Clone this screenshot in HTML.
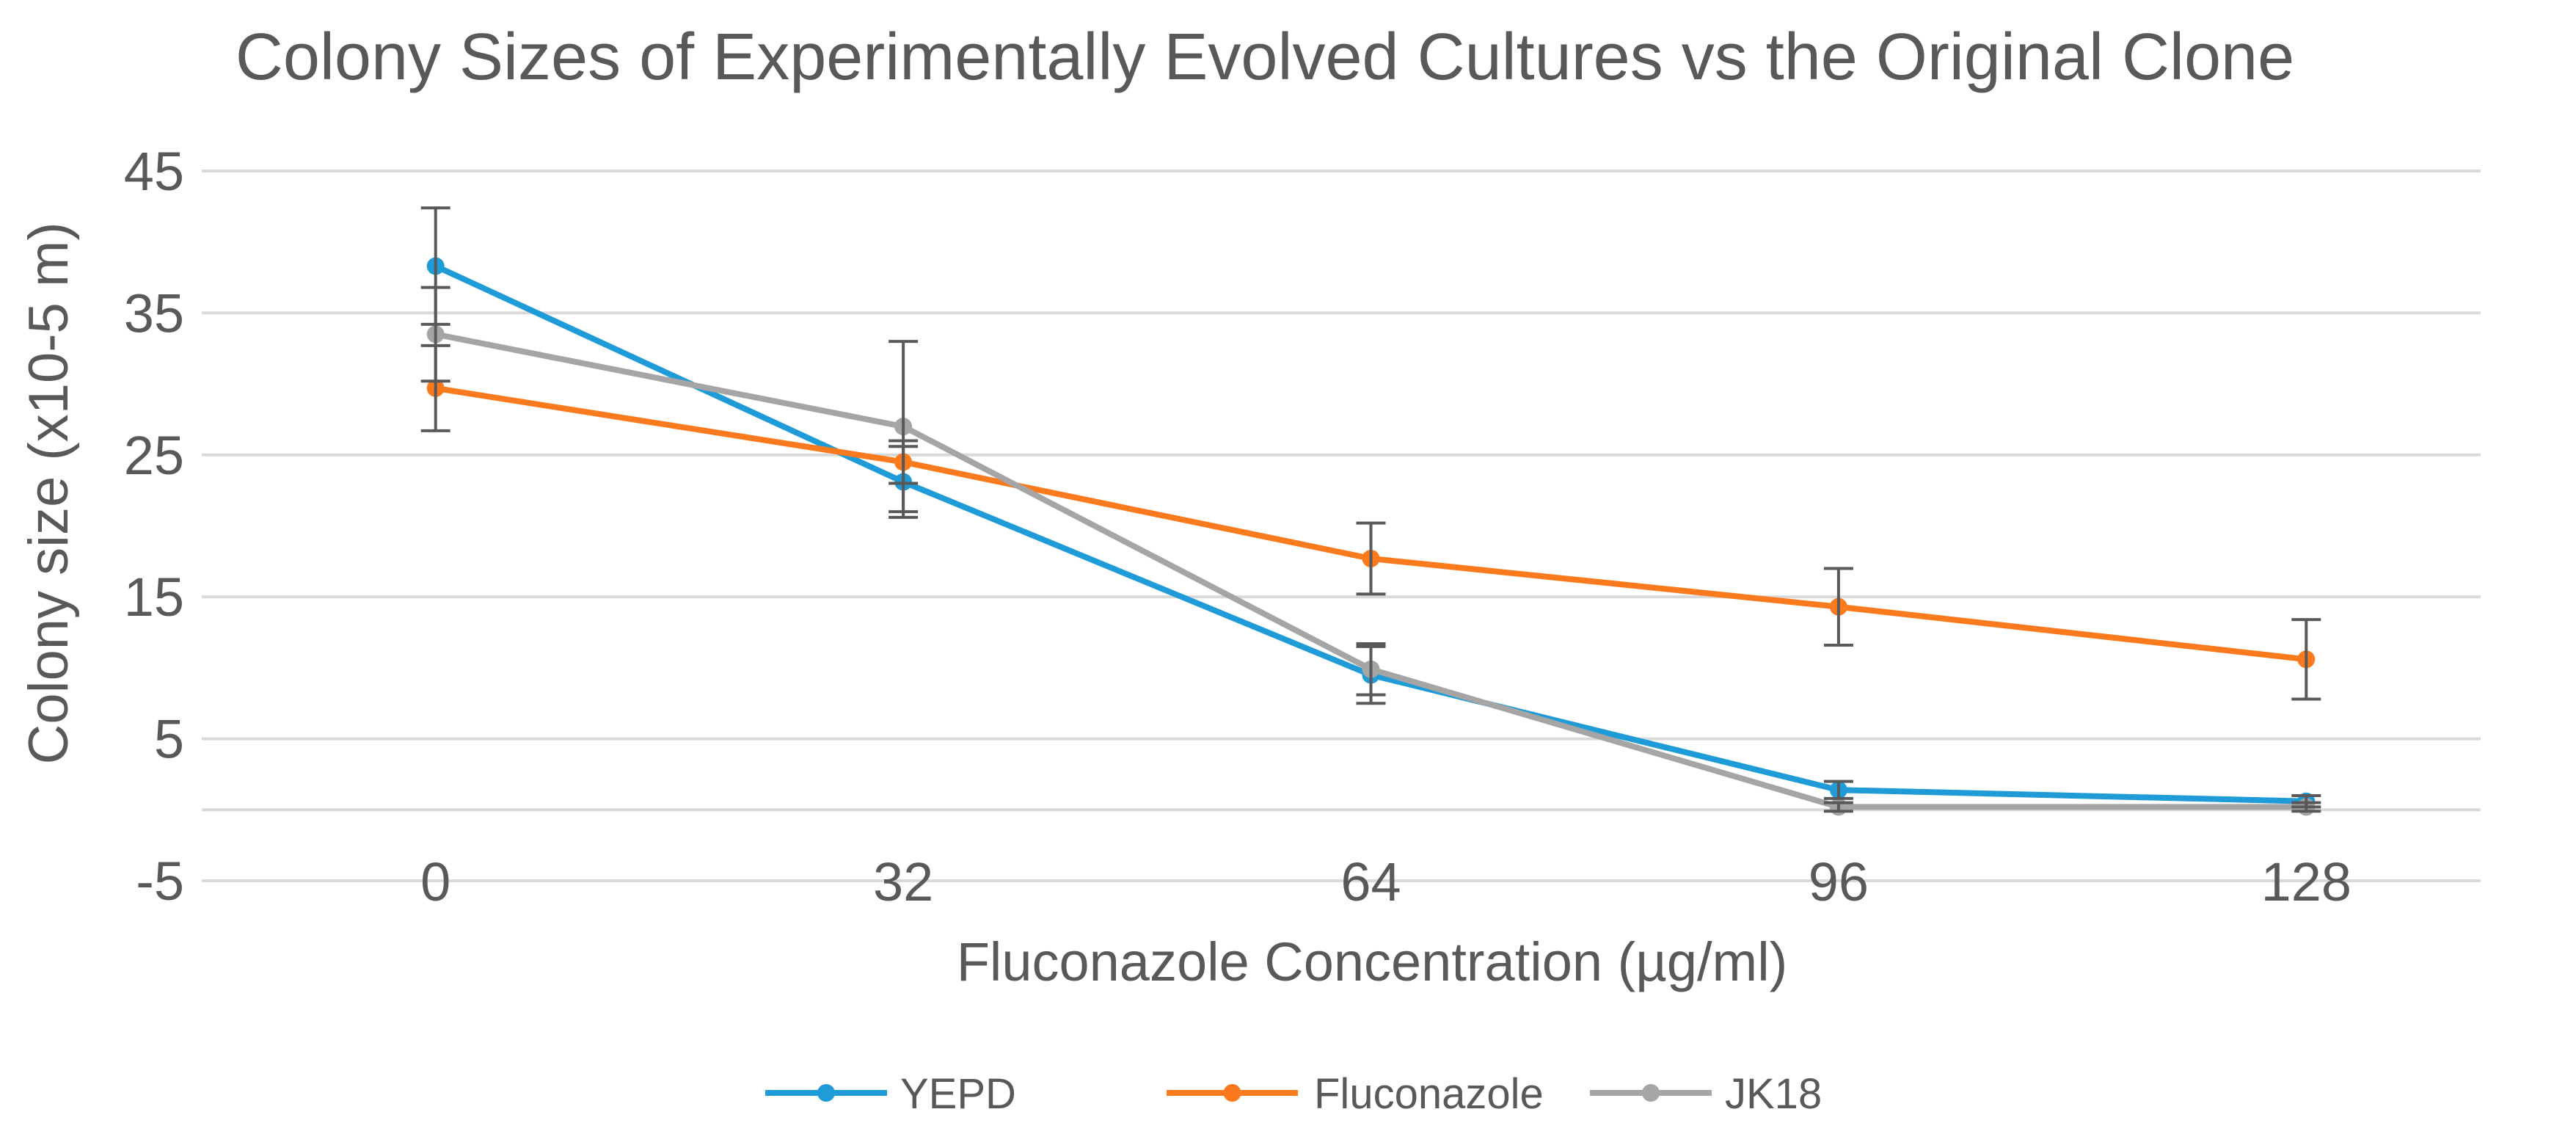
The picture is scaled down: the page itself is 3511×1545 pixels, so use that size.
<!DOCTYPE html>
<html><head><meta charset="utf-8"><style>
html,body{margin:0;padding:0;background:#fff;}
svg{display:block;font-family:"Liberation Sans",sans-serif;}
</style></head><body>
<svg id="chart" width="3511" height="1545" viewBox="0 0 3511 1545">
<text x="1724" y="108" font-size="90" fill="#595959" text-anchor="middle">Colony Sizes of Experimentally Evolved Cultures vs the Original Clone</text>
<g id="grid"></g>
<g id="ylabels"></g>
<g id="xlabels"></g>
<text transform="translate(92,672) rotate(-90)" font-size="76" fill="#595959" text-anchor="middle">Colony size (x10-5 m)</text>
<text x="1870" y="1336" font-size="74" fill="#595959" text-anchor="middle">Fluconazole Concentration (µg/ml)</text>
<g id="series"></g>
<g id="legend"></g>
</svg>
<script>
const categories = ["0","32","64","96","128"];
const yTicks = [45,35,25,15,5,-5];
const seriesNames = ["YEPD","Fluconazole","JK18"];
const yepd = [38.3,23.1,9.5,1.4,0.6];
const fluconazole = [29.7,24.5,17.7,14.3,10.6];
const jk18 = [33.5,27.0,9.9,0.2,0.2];
const yepdErr = [4.1,2.5,2.0,0.6,0.4];
const fluconazoleErr = [3.0,1.5,2.5,2.7,2.8];
const jk18Err = [3.3,6.0,1.8,0.3,0.3];

const NS="http://www.w3.org/2000/svg";
const left=275,right=3462,gridRight=3381,yTop=233,yBot=1200,vTop=45,vBot=-5;
const colors=["#1f9bd7","#fb7a1e","#a5a5a5"];
function xPos(i){const w=(right-left)/categories.length;return left+w*(i+0.5);}
function yPos(v){return yTop+(vTop-v)/(vTop-vBot)*(yBot-yTop);}
function mk(tag,attrs,parent){const e=document.createElementNS(NS,tag);for(const k in attrs)e.setAttribute(k,attrs[k]);parent.appendChild(e);return e;}

const grid=document.getElementById('grid');
const ylab=document.getElementById('ylabels');
const gridVals=yTicks.concat([0]);
gridVals.forEach(v=>{
  const l=mk('line',{x1:left,x2:gridRight,y1:yPos(v),y2:yPos(v),stroke:'#d9d9d9','stroke-width':4},grid);
  
  
});
yTicks.forEach(v=>{
  const t=mk('text',{x:251,y:yPos(v)+26,'font-size':74,fill:'#595959','text-anchor':'end'},ylab);
  t.textContent=String(v);
  
  
});
const xlab=document.getElementById('xlabels');
categories.forEach((c,i)=>{
  const t=mk('text',{x:xPos(i),y:yBot+27,'font-size':74,fill:'#595959','text-anchor':'middle'},xlab);
  t.textContent=c;
  
  
});

const sg=document.getElementById('series');
const allData=[yepd,fluconazole,jk18];
const allErr=[yepdErr,fluconazoleErr,jk18Err];
allData.forEach((d,s)=>{
  const g=mk('g',{},sg);
  
  
  const pts=d.map((v,i)=>xPos(i)+','+yPos(v)).join(' ');
  const pl=mk('polyline',{points:pts,fill:'none',stroke:colors[s],'stroke-width':8,'stroke-linejoin':'round'},g);
  
  
  d.forEach((v,i)=>{
    const c=mk('circle',{cx:xPos(i),cy:yPos(v),r:12,fill:colors[s]},g);
    
    
  });
});
allData.forEach((d,s)=>{
  const g=mk('g',{stroke:'#595959','stroke-width':4},sg);
  
  
  d.forEach((v,i)=>{
    const x=xPos(i),e=allErr[s][i],y1=yPos(v+e),y2=yPos(v-e);
    mk('line',{x1:x,x2:x,y1:y1,y2:y2},g);
    mk('line',{x1:x-20,x2:x+20,y1:y1,y2:y1},g);
    mk('line',{x1:x-20,x2:x+20,y1:y2,y2:y2},g);
  });
});

const lg=document.getElementById('legend');
const legX=[[1043,1209,1227],[1590,1769,1791],[2167,2333,2351]];
seriesNames.forEach((n,s)=>{
  const g=mk('g',{},lg);
  
  
  const [a,b,tx]=legX[s];
  mk('line',{x1:a,x2:b,y1:1489,y2:1489,stroke:colors[s],'stroke-width':8},g);
  mk('circle',{cx:(a+b)/2,cy:1489,r:12,fill:colors[s]},g);
  const t=mk('text',{x:tx,y:1510,'font-size':58,fill:'#595959'},g);
  t.textContent=n;
});
</script>
</body></html>
